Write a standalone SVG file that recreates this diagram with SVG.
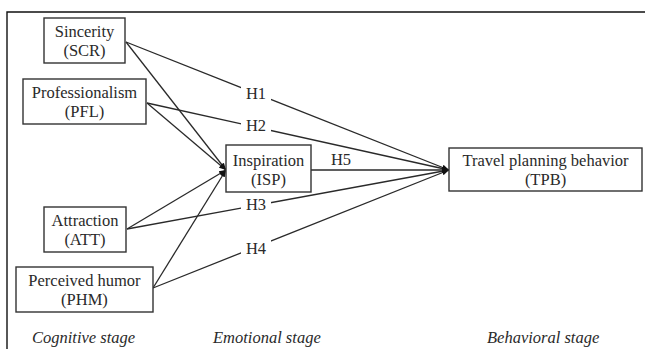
<svg xmlns="http://www.w3.org/2000/svg" width="645" height="349" viewBox="0 0 645 349">
<defs>
<style>
.box{fill:#fff;stroke:#333;stroke-width:1.4}
.t{font-family:"Liberation Serif","Times New Roman",serif;font-size:16.5px;fill:#2a2a2a;text-anchor:middle}
.s{font-family:"Liberation Serif","Times New Roman",serif;font-size:16.5px;font-style:italic;fill:#2a2a2a}
.c{stroke:#2a2a2a;stroke-width:1.3;fill:none}
.lb{fill:#fff}
</style>
<marker id="ah" viewBox="0 0 10 10" refX="10" refY="5" markerWidth="7" markerHeight="7" markerUnits="userSpaceOnUse" orient="auto">
<path d="M0,1 L10,5 L0,9 Z" fill="#111"/>
</marker>
</defs>
<rect width="645" height="349" fill="#fff"/>
<path d="M7,349 V12 H645" fill="none" stroke="#111" stroke-width="1.4"/>
<g id="connectors">
<line class="c" x1="126" y1="42" x2="449" y2="170" marker-end="url(#ah)"/>
<line class="c" x1="126" y1="42" x2="226" y2="170" marker-end="url(#ah)"/>
<line class="c" x1="147" y1="103" x2="449" y2="170" marker-end="url(#ah)"/>
<line class="c" x1="147" y1="103" x2="226" y2="170" marker-end="url(#ah)"/>
<line class="c" x1="127" y1="229" x2="449" y2="170" marker-end="url(#ah)"/>
<line class="c" x1="127" y1="229" x2="226" y2="170" marker-end="url(#ah)"/>
<line class="c" x1="153" y1="288" x2="449" y2="170" marker-end="url(#ah)"/>
<line class="c" x1="153" y1="288" x2="226" y2="170" marker-end="url(#ah)"/>
<line class="c" x1="311" y1="170" x2="449" y2="170" marker-end="url(#ah)"/>
<rect class="lb" x="241" y="85" width="30" height="18"/>
<text class="t" x="256" y="99">H1</text>
<rect class="lb" x="241" y="116" width="30" height="18"/>
<text class="t" x="256" y="131">H2</text>
<rect class="lb" x="241" y="196" width="30" height="18"/>
<text class="t" x="256" y="210">H3</text>
<rect class="lb" x="241" y="240" width="30" height="18"/>
<text class="t" x="256" y="254">H4</text>
<text class="t" x="341" y="165">H5</text>
</g>
<g id="SCR">
<rect class="box" x="44" y="18" width="81" height="45"/>
<text class="t" x="84.5" y="37">Sincerity</text>
<text class="t" x="84.5" y="56">(SCR)</text>
</g>
<g id="PFL">
<rect class="box" x="23" y="79" width="123" height="45"/>
<text class="t" x="84.5" y="98">Professionalism</text>
<text class="t" x="84.5" y="117">(PFL)</text>
</g>
<g id="ATT">
<rect class="box" x="44" y="207" width="82" height="45"/>
<text class="t" x="85" y="226">Attraction</text>
<text class="t" x="85" y="245">(ATT)</text>
</g>
<g id="PHM">
<rect class="box" x="16" y="267" width="137" height="45"/>
<text class="t" x="84.5" y="286">Perceived humor</text>
<text class="t" x="84.5" y="305">(PHM)</text>
</g>
<g id="ISP">
<rect class="box" x="226" y="145" width="85" height="47"/>
<text class="t" x="268.5" y="166">Inspiration</text>
<text class="t" x="268.5" y="185">(ISP)</text>
</g>
<g id="TPB">
<rect class="box" x="449" y="148" width="193" height="43"/>
<text class="t" x="545.5" y="166">Travel planning behavior</text>
<text class="t" x="545.5" y="185">(TPB)</text>
</g>
<g id="stages">
<text class="s" x="32" y="343">Cognitive stage</text>
<text class="s" x="213" y="343">Emotional stage</text>
<text class="s" x="487" y="343">Behavioral stage</text>
</g>
</svg>
